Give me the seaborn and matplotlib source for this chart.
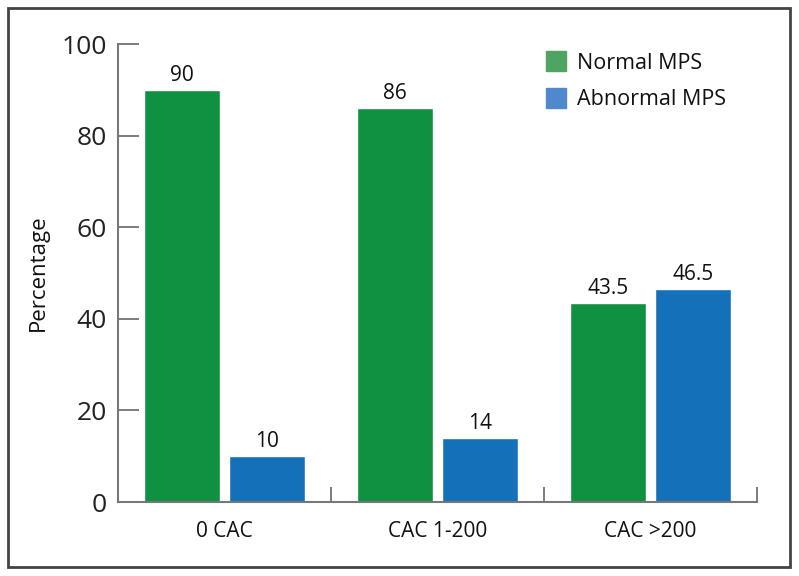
import matplotlib
matplotlib.use("Agg")
import matplotlib.pyplot as plt
import seaborn as sns
import pandas as pd
from matplotlib.lines import Line2D
from matplotlib.patches import Rectangle
from matplotlib.ticker import FixedLocator

categories = ["0 CAC", "CAC 1-200", "CAC >200"]
series_names = ["Normal MPS", "Abnormal MPS"]
normal_vals = [90, 86, 43.5]
abnormal_vals = [10, 14, 46.5]
value_labels = [["90", "86", "43.5"], ["10", "14", "46.5"]]
yticks = [0, 20, 40, 60, 80, 100]

bar_colors = ["#0f9142", "#1570ba"]
legend_colors = ["#4ea561", "#4f88cc"]

sns.set_theme(style="white")
plt.rcParams["font.family"] = ["Open Sans", "DejaVu Sans"]

df = pd.DataFrame({
    "cat": categories * 2,
    "series": [series_names[0]] * 3 + [series_names[1]] * 3,
    "val": normal_vals + abnormal_vals,
})

fig = plt.figure(figsize=(7.99, 5.76), dpi=100)
ax = fig.add_axes([118 / 799, 1 - 502 / 576, (757 - 118) / 799, (502 - 44) / 576])

sns.barplot(data=df, x="cat", y="val", hue="series", palette=bar_colors,
            order=categories, hue_order=series_names, width=0.8, gap=0.1,
            saturation=1, legend=False, ax=ax, errorbar=None)

for cont, labs in zip(ax.containers, value_labels):
    ax.bar_label(cont, labels=labs, padding=3, fontsize=15, color="#111111")

ax.set_ylim(0, 100)
ax.set_xlim(-0.5, 2.5)
ax.set_yticks(yticks)
ax.set_yticklabels([str(t) for t in yticks], fontsize=19, color="#222222")
ax.set_xticks(range(len(categories)))
ax.set_xticklabels(categories, fontsize=15, color="#111111")
ax.tick_params(axis="x", length=0, pad=14)
ax.tick_params(axis="y", which="major", left=True, direction="in", length=15,
               width=1.2, color="#666666", pad=8)
ax.xaxis.set_minor_locator(FixedLocator([0.5, 1.5, 2.5]))
ax.tick_params(axis="x", which="minor", direction="in", length=11, width=1.2,
               color="#666666", bottom=True)
ax.set_xlabel("")
ax.set_ylabel("Percentage", fontsize=16, color="#111111", labelpad=9)
for s in ["top", "right"]:
    ax.spines[s].set_visible(False)
for s in ["left", "bottom"]:
    ax.spines[s].set_color("#777777")
    ax.spines[s].set_linewidth(1.5)

handles = [Line2D([0], [0], marker="s", linestyle="none", markersize=14,
                  markerfacecolor=c, markeredgecolor=c) for c in legend_colors]
fig.legend(handles, series_names, loc="upper left",
           bbox_to_anchor=(545 / 799, 1 - 53 / 576), frameon=False,
           fontsize=15.5, handlelength=1.0, handletextpad=0.5,
           labelspacing=0.7, borderpad=0, borderaxespad=0, labelcolor="#111111")

fig.patches.append(Rectangle((8 / 799, 1 - 567 / 576), (790 - 8) / 799, (567 - 8) / 576,
                             transform=fig.transFigure, fill=False,
                             edgecolor="#444444", linewidth=2))

fig.savefig("out.png", dpi=100)
